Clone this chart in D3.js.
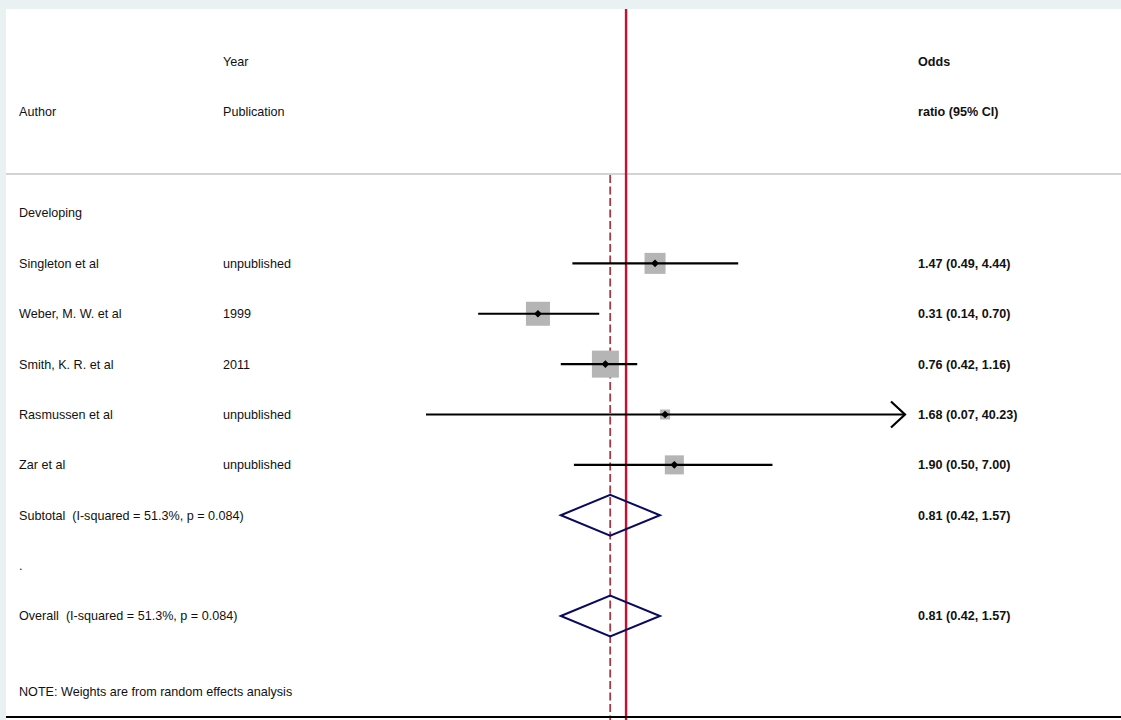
<!DOCTYPE html>
<html>
<head>
<meta charset="utf-8">
<script src="https://cdn.jsdelivr.net/npm/d3@7"></script>
<style>
  body { margin: 0; background: #fff; }
  svg { display: block; font-family: "Liberation Sans", Arial, sans-serif; }
  text { white-space: pre; }
</style>
</head>
<body>
<script>
// study rows
const authors = ['Singleton et al', 'Weber, M. W. et al', 'Smith, K. R. et al', 'Rasmussen et al', 'Zar et al'];
const years = ['unpublished', '1999', '2011', 'unpublished', 'unpublished'];
const oddsRatio = [1.47, 0.31, 0.76, 1.68, 1.90];
const ciLow = [0.49, 0.14, 0.42, 0.07, 0.50];
const ciHigh = [4.44, 0.70, 1.16, 40.23, 7.00];
const weights = [20.0, 26.1, 33.0, 4.5, 16.4];

// pooled rows
const pooledLabels = ['Subtotal  (I-squared = 51.3%, p = 0.084)', 'Overall  (I-squared = 51.3%, p = 0.084)'];
const pooledOR = [0.81, 0.81];
const pooledLow = [0.42, 0.42];
const pooledHigh = [1.57, 1.57];

const groupLabel = 'Developing';
const noteText = 'NOTE: Weights are from random effects analysis';
const xDomain = [0.07, 40.23];
const clipHigh = 40.23;

var width = 1121,
    height = 720,
    colAuthor = 19,
    colYear = 223,
    colOR = 918,
    fontSize = 12.6;

var svg = d3.select('body').append('svg')
    .attr('width', width)
    .attr('height', height);

// frame background
svg.append('rect').attr('width', width).attr('height', height).attr('fill', '#e9f1f3');
svg.append('rect').attr('x', 6).attr('y', 9).attr('width', width - 6).attr('height', height - 9).attr('fill', '#fff');

var xScale = d3.scaleLog()
    .domain(xDomain)
    .range([426, 904]);

// row positions: 0 = group label, 1..5 studies, 6 subtotal, 7 '.', 8 overall
var yScale = d3.scaleLinear()
    .domain([0, 8])
    .range([213, 616]);

function txt(x, y, s, bold) {
    svg.append('text')
        .attr('x', x)
        .attr('y', y)
        .attr('dy', '0.35em')
        .attr('font-size', fontSize)
        .attr('font-weight', bold ? 'bold' : 'normal')
        .attr('fill', '#111')
        .attr('xml:space', 'preserve')
        .text(s);
}

// header
txt(colYear, 62, 'Year');
txt(colOR, 62, 'Odds', true);
txt(colAuthor, 112, 'Author');
txt(colYear, 112, 'Publication');
txt(colOR, 112, 'ratio (95% CI)', true);

svg.append('line')
    .attr('x1', 6).attr('x2', width)
    .attr('y1', 174).attr('y2', 174)
    .attr('stroke', '#c4c4c4').attr('stroke-width', 1.6);

// dashed line at pooled estimate
svg.append('line')
    .attr('x1', xScale(pooledOR[1])).attr('x2', xScale(pooledOR[1]))
    .attr('y1', 175).attr('y2', height)
    .attr('stroke', '#a23a48').attr('stroke-width', 1.8)
    .attr('stroke-dasharray', '8,3.5');

// null line
svg.append('line')
    .attr('x1', xScale(1)).attr('x2', xScale(1))
    .attr('y1', 9).attr('y2', height)
    .attr('stroke', '#c8102e').attr('stroke-width', 2.4);

txt(colAuthor, yScale(0), groupLabel);

var studies = authors.map((a, i) => ({
    author: a, year: years[i], or: oddsRatio[i], lo: ciLow[i], hi: ciHigh[i], w: weights[i], row: i + 1
}));

var g = svg.selectAll('g.study')
    .data(studies)
    .enter()
    .append('g')
    .attr('class', 'study');

// weight boxes
g.append('rect')
    .attr('x', d => xScale(d.or) - Math.sqrt(d.w) * 4.7 / 2)
    .attr('y', d => yScale(d.row) - Math.sqrt(d.w) * 4.7 / 2)
    .attr('width', d => Math.sqrt(d.w) * 4.7)
    .attr('height', d => Math.sqrt(d.w) * 4.7)
    .attr('fill', '#b5b5b5');

// confidence intervals
g.append('line')
    .attr('x1', d => xScale(d.lo))
    .attr('x2', d => xScale(Math.min(d.hi, clipHigh)))
    .attr('y1', d => yScale(d.row))
    .attr('y2', d => yScale(d.row))
    .attr('stroke', '#000')
    .attr('stroke-width', 2.2);

// arrow for clipped interval
g.filter(d => d.hi >= clipHigh)
    .append('path')
    .attr('d', d => {
        var x = xScale(clipHigh), y = yScale(d.row);
        return `M${x - 13},${y - 13}L${x + 1},${y}L${x - 13},${y + 13}`;
    })
    .attr('fill', 'none')
    .attr('stroke', '#000')
    .attr('stroke-width', 2.2);

// point estimates (square turned 45 degrees)
g.append('path')
    .attr('transform', d => `translate(${xScale(d.or)},${yScale(d.row)}) rotate(45)`)
    .attr('d', d3.symbol().type(d3.symbolSquare).size(30))
    .attr('fill', '#000');

studies.forEach(d => {
    txt(colAuthor, yScale(d.row), d.author);
    txt(colYear, yScale(d.row), d.year);
    txt(colOR, yScale(d.row), `${d.or.toFixed(2)} (${d.lo.toFixed(2)}, ${d.hi.toFixed(2)})`, true);
});

// pooled diamonds
var pooledRows = [6, 8];
pooledLabels.forEach((lab, i) => {
    var y = yScale(pooledRows[i]);
    svg.append('path')
        .attr('d', `M${xScale(pooledLow[i])},${y}L${xScale(pooledOR[i])},${y - 20.5}L${xScale(pooledHigh[i])},${y}L${xScale(pooledOR[i])},${y + 20.5}Z`)
        .attr('fill', 'none')
        .attr('stroke', '#0a0a5e')
        .attr('stroke-width', 2);
    txt(colAuthor, y, lab);
    txt(colOR, y, `${pooledOR[i].toFixed(2)} (${pooledLow[i].toFixed(2)}, ${pooledHigh[i].toFixed(2)})`, true);
});

txt(colAuthor, yScale(7), '.');
txt(colAuthor, 692, noteText);

// bottom axis line
svg.append('line')
    .attr('x1', 6).attr('x2', width)
    .attr('y1', 717).attr('y2', 717)
    .attr('stroke', '#000').attr('stroke-width', 2);
</script>
</body>
</html>
